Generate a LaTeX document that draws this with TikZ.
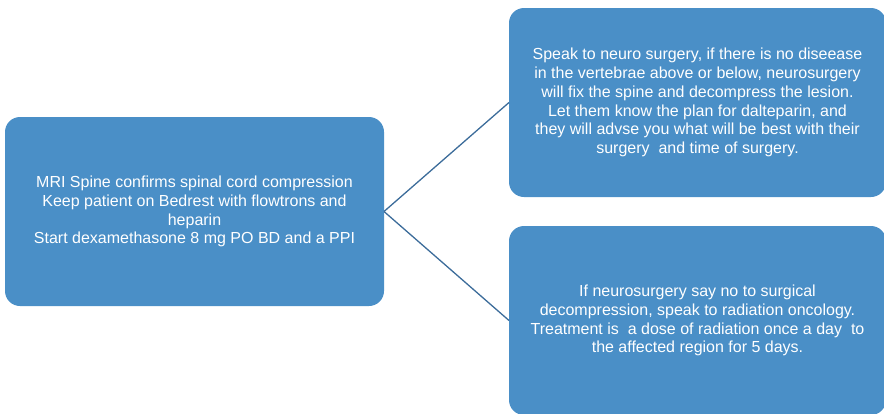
\documentclass[tikz,border=0pt]{standalone}
\usepackage{fontspec}
\setmainfont{Liberation Sans}
\usepackage{tikz}
\usetikzlibrary{positioning}

\definecolor{boxblue}{HTML}{4A8FC7}
\definecolor{lineblue}{HTML}{3C6C9A}

\begin{document}
\begin{tikzpicture}[x=1pt, y=-1pt,
    every node/.style={rounded corners=15pt},
    stepbox/.style={fill=boxblue, draw=none, text=white, align=center,
        minimum width=377pt, minimum height=189pt, inner sep=0pt, outer sep=0pt,
        font=\fontsize{16}{18.8}\selectfont},
    link/.style={draw=lineblue, line width=1.3pt}]

    \useasboundingbox (0,0) rectangle (884,413);

    \node[stepbox, minimum width=379pt](mri) at (194.5,211.5)
        {MRI Spine confirms spinal cord compression\\
         Keep patient on Bedrest with flowtrons and\\
         heparin\\
         Start dexamethasone 8 mg PO BD and a PPI};

    \node[stepbox, right = 125pt of mri, yshift=109pt
    ](neuro) {Speak to neuro surgery, if there is no diseease\\
         in the vertebrae above or below, neurosurgery\\
         will fix the spine and decompress the lesion.\\
         Let them know the plan for dalteparin, and\\
         they will advse you what will be best with their\\
         surgery\ \ and time of surgery.};

    \node[stepbox, right = 125pt of mri, yshift=-109pt
    ](radio) {If neurosurgery say no to surgical\\
         decompression, speak to radiation oncology.\\
         Treatment is\ \ a dose of radiation once a day\ \ to\\
         the affected region for 5 days.};

    \draw[link] (mri.east) -- (neuro.west);
    \draw[link] (mri.east) -- (radio.west);
\end{tikzpicture}
\end{document}
